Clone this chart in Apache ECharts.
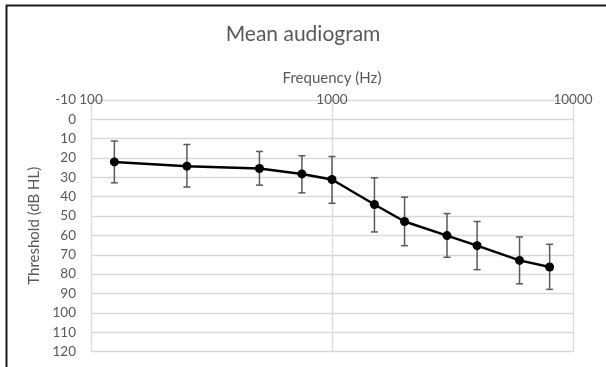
<!DOCTYPE html>
<html>
<head>
<meta charset="utf-8">
<script src="https://cdn.jsdelivr.net/npm/echarts@6/dist/echarts.min.js"></script>
<style>
html,body{margin:0;padding:0;background:#fff;}
#chart{width:606px;height:367px;}
</style>
</head>
<body>
<div id="chart"></div>
<script>
var frequencies = [125, 250, 500, 750, 1000, 1500, 2000, 3000, 4000, 6000, 8000];
var meanThreshold = [22, 24.2, 25.4, 28.2, 31.1, 44, 52.8, 60.1, 65.3, 72.9, 76.3];
var errLow = [11.2, 13, 16.6, 18.8, 19.2, 30.2, 40.2, 48.7, 52.8, 60.8, 64.6];
var errHigh = [32.8, 35, 34, 38, 43.4, 58.2, 65.3, 71.3, 77.7, 85, 87.9];
var xTicks = [100, 1000, 10000];
var yTicks = [-10, 0, 10, 20, 30, 40, 50, 60, 70, 80, 90, 100, 110, 120];

var FONT = 'Lato';
var TXT = '#595959';
var GRID = '#d9d9d9';

var lineData = frequencies.map(function (f, i) { return [f, meanThreshold[i]]; });
var errData = frequencies.map(function (f, i) { return [f, errLow[i], errHigh[i]]; });

var chart = echarts.init(document.getElementById('chart'), null, {renderer: 'canvas'});
chart.setOption({
  animation: false,
  backgroundColor: '#fff',
  textStyle: {fontFamily: FONT},
  title: {
    text: 'Mean audiogram',
    left: 'center',
    top: 19,
    textStyle: {fontFamily: FONT, fontSize: 21, fontWeight: 'normal', color: TXT}
  },
  graphic: [
    {type: 'line', shape: {x1: 6, y1: 5.5, x2: 606, y2: 5.5}, style: {stroke: '#1a1a1a', lineWidth: 2}},
    {type: 'line', shape: {x1: 6.5, y1: 5, x2: 6.5, y2: 367}, style: {stroke: '#1a1a1a', lineWidth: 2}}
  ],
  grid: {left: 91, right: 33, top: 100, bottom: 15.5, containLabel: false},
  xAxis: {
    type: 'log',
    logBase: 10,
    min: xTicks[0],
    max: xTicks[xTicks.length - 1],
    position: 'top',
    name: 'Frequency (Hz)',
    nameLocation: 'middle',
    nameGap: 14,
    nameTextStyle: {fontFamily: FONT, fontSize: 15, color: TXT},
    axisLine: {show: true, lineStyle: {color: GRID, width: 1}},
    axisTick: {show: false},
    minorTick: {show: false},
    splitLine: {show: true, lineStyle: {color: GRID, width: 1.3}},
    axisLabel: {
      fontFamily: FONT, fontSize: 13.5, color: TXT, margin: -7,
      formatter: function (v) { return xTicks.indexOf(Math.round(v)) >= 0 ? String(Math.round(v)) : ''; }
    }
  },
  yAxis: {
    type: 'value',
    inverse: true,
    min: yTicks[0],
    max: yTicks[yTicks.length - 1],
    interval: 10,
    name: 'Threshold (dB HL)',
    nameLocation: 'middle',
    nameGap: 41,
    nameRotate: 90,
    nameTextStyle: {fontFamily: FONT, fontSize: 15, color: TXT},
    axisLine: {show: false},
    axisTick: {show: false},
    splitLine: {show: true, lineStyle: {color: GRID, width: 1.3}},
    axisLabel: {fontFamily: FONT, fontSize: 13.5, color: TXT, margin: 15}
  },
  series: [
    {
      type: 'custom',
      name: 'error',
      data: errData,
      z: 2,
      renderItem: function (params, api) {
        var x = api.value(0);
        var lo = api.coord([x, api.value(1)]);
        var hi = api.coord([x, api.value(2)]);
        var hw = 3.5;
        var st = {stroke: '#595959', lineWidth: 1.5, fill: null};
        return {
          type: 'group',
          children: [
            {type: 'line', shape: {x1: lo[0], y1: lo[1], x2: hi[0], y2: hi[1]}, style: st},
            {type: 'line', shape: {x1: lo[0] - hw, y1: lo[1], x2: lo[0] + hw, y2: lo[1]}, style: st},
            {type: 'line', shape: {x1: hi[0] - hw, y1: hi[1], x2: hi[0] + hw, y2: hi[1]}, style: st}
          ]
        };
      }
    },
    {
      type: 'line',
      name: 'Mean',
      data: lineData,
      z: 3,
      symbol: 'circle',
      symbolSize: 9,
      itemStyle: {color: '#000'},
      lineStyle: {color: '#000', width: 2.5}
    }
  ]
});
</script>
</body>
</html>
